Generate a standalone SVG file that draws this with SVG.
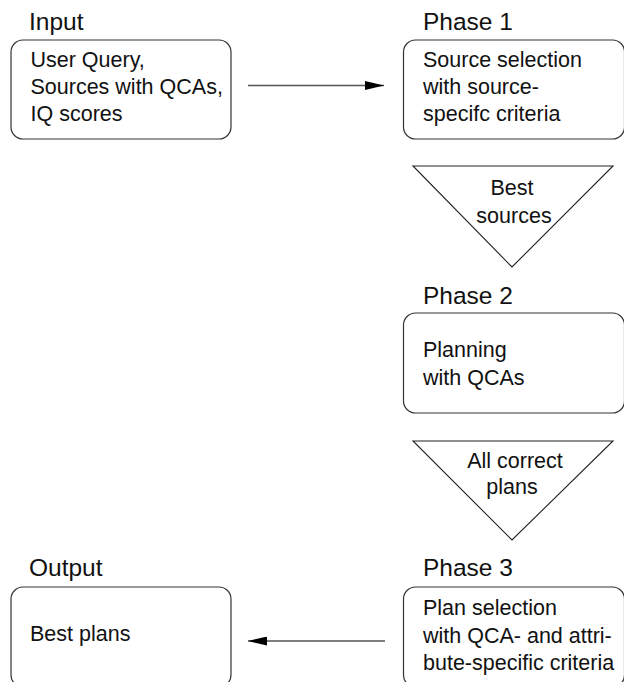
<svg xmlns="http://www.w3.org/2000/svg" width="624" height="682" viewBox="0 0 624 682">
<defs>
<style>
.box{fill:#fff;stroke:#333;stroke-width:1.2}
.tri{fill:#fff;stroke:#222;stroke-width:1.1}
.lbl{font-family:"Liberation Sans",Arial,sans-serif;font-size:24.5px;fill:#111}
.txt{font-family:"Liberation Sans",Arial,sans-serif;font-size:21.5px;fill:#111}
.mid{text-anchor:middle}
.conn{stroke:#555;stroke-width:1.3;fill:none}
</style>
<marker id="ah" viewBox="0 0 19 9" refX="19" refY="4.5" markerWidth="19" markerHeight="9" markerUnits="userSpaceOnUse" orient="auto">
<path d="M0,0 L19,4.5 L0,9 Z" fill="#000"/>
</marker>
</defs>
<rect width="624" height="682" fill="#fff"/>
<g id="input">
<text class="lbl" x="29" y="30">Input</text>
<rect class="box" x="11" y="40" width="220" height="99" rx="12"/>
<text class="txt" x="30.5" y="67">User Query,</text>
<text class="txt" x="30.5" y="94">Sources with QCAs,</text>
<text class="txt" x="30.5" y="121">IQ scores</text>
</g>
<g id="phase1">
<text class="lbl" x="423" y="30">Phase 1</text>
<rect class="box" x="403.5" y="40" width="221" height="99" rx="12"/>
<text class="txt" x="423" y="67">Source selection</text>
<text class="txt" x="423" y="94">with source-</text>
<text class="txt" x="423" y="121">specifc criteria</text>
</g>
<g id="best-sources">
<polygon class="tri" points="413,166 613,166 512,267"/>
<text class="txt mid" x="512" y="195">Best</text>
<text class="txt mid" x="514" y="223">sources</text>
</g>
<g id="phase2">
<text class="lbl" x="423" y="304">Phase 2</text>
<rect class="box" x="403.5" y="313" width="221" height="100" rx="12"/>
<text class="txt" x="423" y="357">Planning</text>
<text class="txt" x="423" y="385">with QCAs</text>
</g>
<g id="all-correct-plans">
<polygon class="tri" points="413,441 613,441 512,540"/>
<text class="txt mid" x="515" y="468">All correct</text>
<text class="txt mid" x="512" y="494">plans</text>
</g>
<g id="phase3">
<text class="lbl" x="423" y="576">Phase 3</text>
<rect class="box" x="403.5" y="587" width="221" height="100" rx="12"/>
<text class="txt" x="423" y="615">Plan selection</text>
<text class="txt" x="423" y="643">with QCA- and attri-</text>
<text class="txt" x="423" y="670">bute-specific criteria</text>
</g>
<g id="output">
<text class="lbl" x="29" y="576">Output</text>
<rect class="box" x="11" y="587" width="220" height="100" rx="12"/>
<text class="txt" x="30" y="641">Best plans</text>
</g>
<g id="connectors">
<line class="conn" x1="248" y1="85.5" x2="384" y2="85.5" marker-end="url(#ah)"/>
<line class="conn" x1="385" y1="641" x2="248" y2="641" marker-end="url(#ah)"/>
</g>
</svg>
